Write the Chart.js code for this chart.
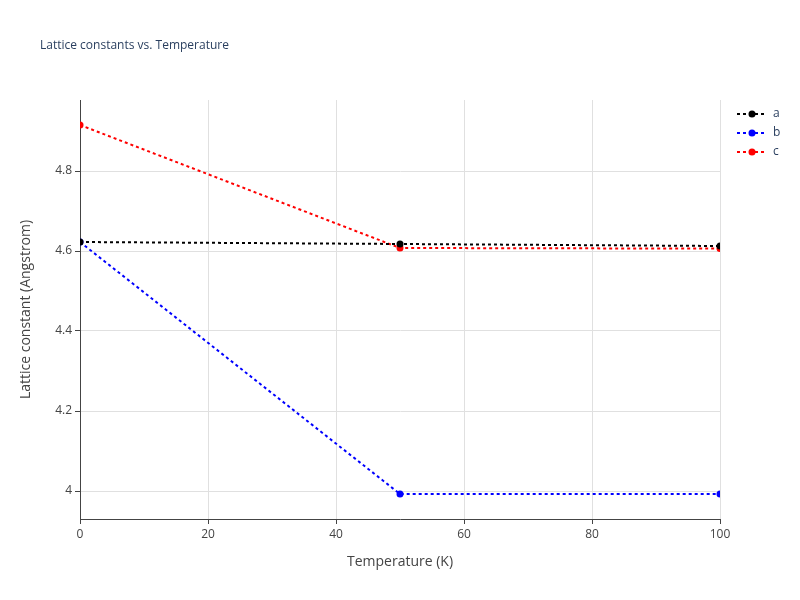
<!DOCTYPE html>
<html>
<head>
<meta charset="utf-8">
<script src="https://cdn.jsdelivr.net/npm/chart.js@4/dist/chart.umd.min.js"></script>
<style>
  body { margin: 0; background: #fff; }
  #wrap { width: 800px; height: 600px; }
</style>
</head>
<body>
<div id="wrap"><canvas id="chart"></canvas></div>
<script>
const temps = [0, 50, 100];
const aVals = [4.6225, 4.6175, 4.6125];
const bVals = [4.6225, 3.9925, 3.9925];
const cVals = [4.915, 4.6075, 4.606];
const yTicks = [4, 4.2, 4.4, 4.6, 4.8];

const font = "'Open Sans', sans-serif";
const mk = (label, vals, color) => ({
  label: label,
  data: temps.map((t, i) => ({ x: t, y: vals[i] })),
  borderColor: color,
  backgroundColor: color,
  borderWidth: 2,
  borderDash: [3, 3],
  pointRadius: 3.5,
  pointBorderWidth: 0
});

// title and plotly-like legend drawn on the canvas
const extras = {
  id: "extras",
  afterDraw(chart) {
    const ctx = chart.ctx;
    ctx.save();
    ctx.fillStyle = "#2a3f5f";
    ctx.font = "12px " + font;
    ctx.textBaseline = "middle";
    ctx.fillText("Lattice constants vs. Temperature", 40, 46);
    chart.data.datasets.forEach((ds, i) => {
      const y = 114 + i * 19;
      ctx.strokeStyle = ds.borderColor;
      ctx.lineWidth = 2;
      ctx.setLineDash([3, 3]);
      ctx.beginPath();
      ctx.moveTo(737, y);
      ctx.lineTo(767, y);
      ctx.stroke();
      ctx.setLineDash([]);
      ctx.fillStyle = ds.borderColor;
      ctx.beginPath();
      ctx.arc(752, y, 3.5, 0, Math.PI * 2);
      ctx.fill();
      ctx.fillStyle = "#2a3f5f";
      ctx.fillText(ds.label, 773, y);
    });
    ctx.restore();
  }
};

new Chart(document.getElementById("chart"), {
  type: "line",
  data: { datasets: [mk("a", aVals, "black"), mk("b", bVals, "blue"), mk("c", cVals, "red")] },
  options: {
    responsive: true,
    maintainAspectRatio: false,
    animation: false,
    layout: { padding: { left: 14, right: 80, top: 100, bottom: 26 } },
    plugins: { legend: { display: false }, tooltip: { enabled: false } },
    scales: {
      x: {
        type: "linear",
        min: 0, max: 100,
        ticks: { stepSize: 20, color: "#444", font: { family: font, size: 12 } },
        grid: { color: "#e0e0e0", drawTicks: true, tickLength: 5, tickColor: "#444" },
        border: { display: true, color: "#444" },
        title: { display: true, text: "Temperature (K)", color: "#444", font: { family: font, size: 14 }, padding: { top: 12 } },
        afterFit(s) { s.height = 55; }
      },
      y: {
        min: 3.93, max: 4.9775,
        afterBuildTicks(s) { s.ticks = yTicks.map(v => ({ value: v })); },
        ticks: {
          color: "#444", font: { family: font, size: 12 },
          callback: v => (v === 4 ? "4" : v.toFixed(1))
        },
        grid: { color: "#e0e0e0", tickLength: 5, tickColor: "#444" },
        border: { display: true, color: "#444" },
        title: { display: true, text: "Lattice constant (Angstrom)", color: "#444", font: { family: font, size: 14 } },
        afterFit(s) { s.width = 66; }
      }
    }
  },
  plugins: [extras]
});
</script>
</body>
</html>
